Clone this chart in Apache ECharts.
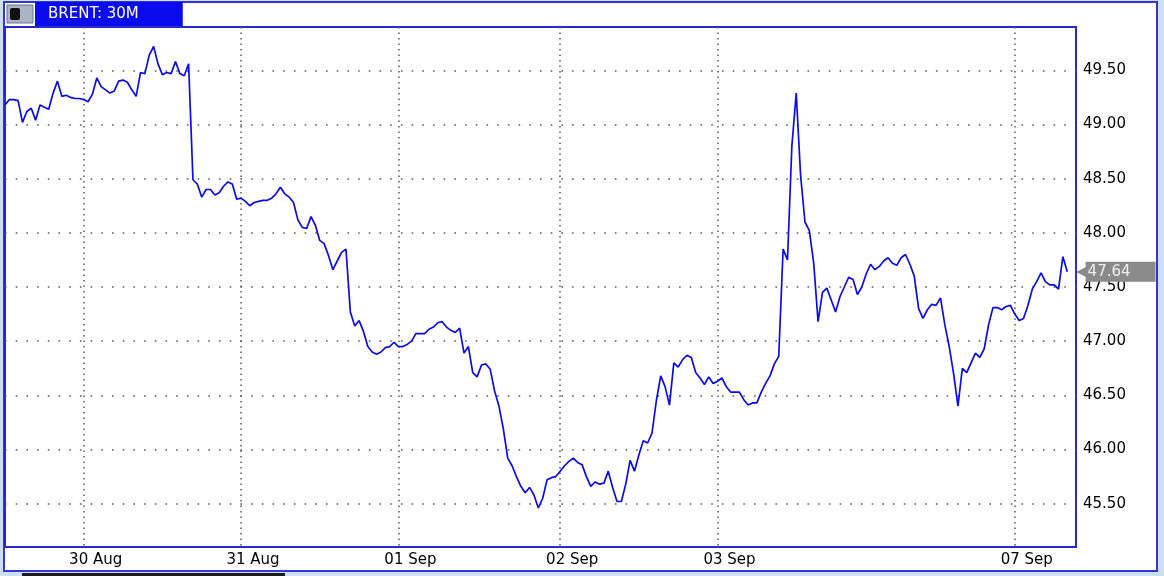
<!DOCTYPE html>
<html>
<head>
<meta charset="utf-8">
<script src="https://cdn.jsdelivr.net/npm/echarts@6/dist/echarts.min.js"></script>
<style>
html,body{margin:0;padding:0;background:#cddff6;}
#chart{width:1164px;height:576px;}
</style>
</head>
<body>
<div id="chart"></div>
<script>
// ---- data ----
const titleText = 'BRENT: 30M';
const dayNames = ['29 Aug', '30 Aug', '31 Aug', '01 Sep', '02 Sep', '03 Sep', '07 Sep'];
const dayBars = [18, 36, 36, 37, 36, 68, 13];      // 30-minute bars per session
const labelledDays = ['30 Aug', '31 Aug', '01 Sep', '02 Sep', '03 Sep', '07 Sep'];
const emptyBarsAtEnd = 2;
const yTicks = [45.5, 46.0, 46.5, 47.0, 47.5, 48.0, 48.5, 49.0, 49.5];
const prices = [
  49.18, 49.23, 49.23, 49.22, 49.02, 49.12, 49.15, 49.04, 49.18, 49.16,
  49.14, 49.29, 49.40, 49.26, 49.27, 49.25, 49.24, 49.24, 49.23, 49.21,
  49.28, 49.43, 49.35, 49.32, 49.29, 49.31, 49.40, 49.41, 49.39, 49.32,
  49.26, 49.48, 49.47, 49.64, 49.72, 49.56, 49.46, 49.48, 49.47, 49.58,
  49.47, 49.45, 49.56, 48.49, 48.45, 48.33, 48.40, 48.40, 48.35, 48.37,
  48.43, 48.47, 48.45, 48.31, 48.32, 48.29, 48.25, 48.28, 48.29, 48.30,
  48.30, 48.32, 48.36, 48.42, 48.36, 48.33, 48.28, 48.12, 48.05, 48.04,
  48.15, 48.07, 47.93, 47.90, 47.79, 47.66, 47.74, 47.82, 47.85, 47.27,
  47.14, 47.19, 47.09, 46.95, 46.90, 46.88, 46.90, 46.94, 46.95, 46.99,
  46.95, 46.95, 46.97, 47.00, 47.07, 47.07, 47.07, 47.11, 47.13, 47.17,
  47.18, 47.13, 47.10, 47.08, 47.12, 46.89, 46.95, 46.71, 46.67, 46.78,
  46.79, 46.74, 46.54, 46.40, 46.19, 45.92, 45.85, 45.75, 45.66, 45.60,
  45.65, 45.58, 45.46, 45.55, 45.72, 45.74, 45.75, 45.80, 45.85, 45.89,
  45.92, 45.88, 45.86, 45.75, 45.66, 45.70, 45.68, 45.69, 45.80, 45.65,
  45.52, 45.52, 45.68, 45.90, 45.80, 45.95, 46.08, 46.06, 46.15, 46.45,
  46.68, 46.58, 46.41, 46.80, 46.76, 46.83, 46.87, 46.85, 46.71, 46.66,
  46.60, 46.67, 46.61, 46.63, 46.66, 46.58, 46.53, 46.53, 46.53, 46.46,
  46.41, 46.43, 46.43, 46.53, 46.61, 46.68, 46.79, 46.86, 47.85, 47.75,
  48.80, 49.29, 48.53, 48.10, 48.02, 47.72, 47.18, 47.45, 47.49, 47.38,
  47.27, 47.41, 47.50, 47.59, 47.57, 47.43, 47.50, 47.62, 47.71, 47.66,
  47.69, 47.74, 47.77, 47.72, 47.70, 47.77, 47.80, 47.71, 47.60, 47.30,
  47.21, 47.29, 47.34, 47.33, 47.40, 47.15, 46.95, 46.70, 46.40, 46.75,
  46.71, 46.80, 46.89, 46.85, 46.93, 47.15, 47.31, 47.31, 47.29, 47.32,
  47.33, 47.25, 47.19, 47.21, 47.33, 47.48, 47.55, 47.63, 47.55, 47.52,
  47.52, 47.48, 47.78, 47.64
];

// ---- build category table ----
const categories = [];
const dayStart = {};
dayNames.forEach((d, di) => {
  for (let k = 0; k < dayBars[di]; k++) {
    if (k === 0) dayStart[categories.length] = d;
    categories.push(d + '|' + k);
  }
});
for (let k = 0; k < emptyBarsAtEnd; k++) categories.push('pad|' + k);
const seriesData = prices.concat(new Array(emptyBarsAtEnd).fill(null));
const lastPrice = prices[prices.length - 1];
const isLabelled = (idx) => dayStart[idx] !== undefined && labelledDays.indexOf(dayStart[idx]) >= 0;

const FONT = 'DejaVu Sans';
const chart = echarts.init(document.getElementById('chart'), null, {renderer: 'canvas'});
chart.setOption({
  animation: false,
  backgroundColor: '#cddff6',
  title: {
    text: titleText,
    left: 35, top: 2,
    padding: [3, 44, 3, 13],
    backgroundColor: '#0b0bef',
    textStyle: {color: '#ffffff', fontFamily: FONT, fontSize: 15, fontWeight: 'normal', lineHeight: 18}
  },
  graphic: [
    {type: 'rect', z: -10, silent: true, shape: {x: 4, y: 2, width: 1153, height: 569},
     style: {fill: '#ffffff', stroke: '#3535d2', lineWidth: 2}},
    {type: 'rect', z: 10, silent: true, shape: {x: 7, y: 5, width: 26, height: 18},
     style: {fill: '#aab4c4', stroke: '#6a7690', lineWidth: 1}},
    {type: 'rect', z: 11, silent: true, shape: {x: 10, y: 8, width: 10, height: 12, r: 2},
     style: {fill: '#101010'}},
    {type: 'rect', z: 10, silent: true, shape: {x: 22, y: 573, width: 263, height: 5},
     style: {fill: '#1a1a1a'}}
  ],
  grid: {
    left: 5, right: 88, top: 27, bottom: 29,
    show: true, backgroundColor: '#ffffff', borderColor: '#2a2acc', borderWidth: 2
  },
  xAxis: {
    type: 'category',
    data: categories,
    boundaryGap: false,
    axisLine: {show: false},
    axisTick: {show: false},
    axisLabel: {
      interval: (idx) => isLabelled(idx),
      formatter: (v) => v.split('|')[0],
      color: '#000', fontFamily: FONT, fontSize: 15,
      margin: 6, padding: [0, 0, 0, 24]
    },
    splitLine: {
      show: true,
      interval: (idx) => isLabelled(idx),
      lineStyle: {color: '#5a5a5a', width: 1.5, type: [1.5, 4]}
    }
  },
  yAxis: {
    type: 'value',
    position: 'right',
    min: 45.1, max: 49.9,
    axisLine: {show: false},
    axisTick: {show: false, customValues: yTicks},
    axisLabel: {
      customValues: yTicks,
      formatter: (v) => v.toFixed(2),
      color: '#000', fontFamily: FONT, fontSize: 15, margin: 7
    },
    splitLine: {
      show: true,
      lineStyle: {color: '#5a5a5a', width: 1.6, type: [1.6, 9.1]}
    }
  },
  series: [{
    type: 'line',
    data: seriesData,
    clip: false,
    showSymbol: false,
    symbol: 'none',
    lineStyle: {color: '#0c0ce8', width: 1.7},
    markLine: {
      silent: true,
      symbol: 'none',
      lineStyle: {color: 'rgba(0,0,0,0)', width: 0, type: 'solid'},
      data: [{yAxis: lastPrice}],
      label: {
        show: true,
        opacity: 1,
        position: 'end',
        distance: 0,
        formatter: () => '{a|◀}{b|' + lastPrice.toFixed(2) + '}',
        rich: {
          a: {color: '#8a8a8a', fontSize: 19, fontFamily: FONT, padding: [0, -5, 0, 0]},
          b: {color: '#eeeeee', backgroundColor: '#8a8a8a', fontFamily: FONT, fontSize: 15,
              padding: [3, 25, 2, 2]}
        }
      }
    }
  }]
});
</script>
</body>
</html>
